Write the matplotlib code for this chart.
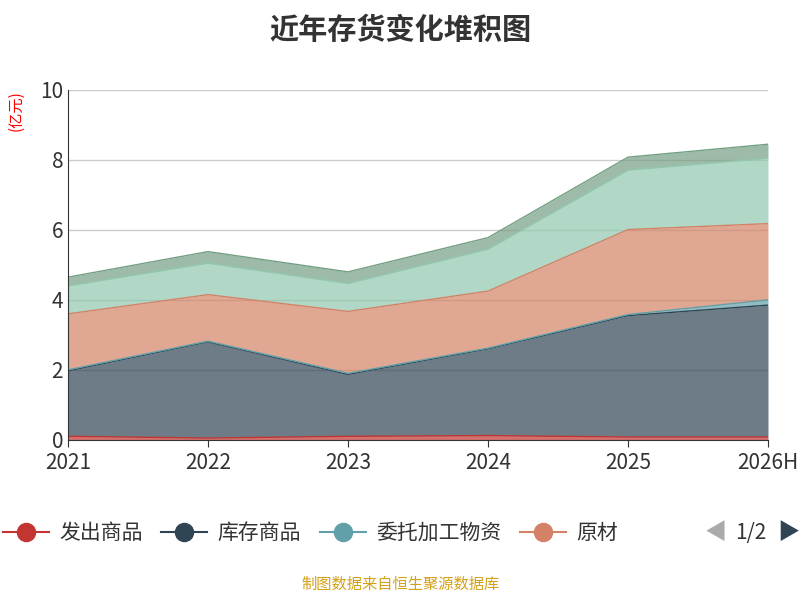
import numpy as np
import matplotlib.pyplot as plt
from matplotlib.lines import Line2D

plt.rcParams['font.family'] = ['Noto Sans CJK SC', 'DejaVu Sans']

years = ["2021", "2022", "2023", "2024", "2025", "2026H"]
names = ["发出商品", "库存商品", "委托加工物资", "原材料", "在产品", "其他"]
colors = ["#c23531", "#2f4554", "#61a0a8", "#d48265", "#91c7ae", "#749f83"]
fa_chu = [0.10, 0.05, 0.10, 0.12, 0.08, 0.08]
ku_cun = [1.87, 2.75, 1.77, 2.48, 3.47, 3.77]
wei_tuo = [0.03, 0.02, 0.03, 0.02, 0.03, 0.15]
yuan_cai = [1.60, 1.33, 1.77, 1.63, 2.43, 2.18]
zai_chan = [0.80, 0.90, 0.80, 1.20, 1.70, 1.87]
qi_ta = [0.25, 0.33, 0.33, 0.33, 0.37, 0.40]
series = [fa_chu, ku_cun, wei_tuo, yuan_cai, zai_chan, qi_ta]

fig = plt.figure(figsize=(8, 6), dpi=100)
ax = fig.add_axes([0.085, 0.267, 0.875, 0.583])
x = np.arange(len(years))
bottom = np.zeros(len(years))
for vals, c, n in zip(series, colors, names):
    top = bottom + np.array(vals)
    ax.fill_between(x, bottom, top, color=c, alpha=0.7, lw=0)
    ax.plot(x, top, color=c, lw=1)
    bottom = top

ax.set_xlim(0, len(years) - 1)
ax.set_ylim(0, 10)
ax.set_xticks(x)
ax.set_xticklabels(years, fontsize=15, color="#333")
ax.set_yticks([0, 2, 4, 6, 8, 10])
ax.tick_params(axis="y", labelsize=15, colors="#333", length=0)
ax.tick_params(axis="x", length=5, color="#333")
ax.grid(axis="y", color="#ccc", lw=1)
ax.set_axisbelow(True)
for s in ["top", "right"]:
    ax.spines[s].set_visible(False)
ax.spines["left"].set_color("#333")
ax.spines["bottom"].set_color("#333")
ax.text(-0.075, 1.0, "(亿元)", transform=ax.transAxes, rotation=90, color="red",
        fontsize=11, ha="center", va="top")

fig.suptitle("近年存货变化堆积图", fontsize=21, fontweight="bold", color="#333", y=0.975)

handles = [Line2D([], [], color=c, marker="o", markersize=13, lw=1.5) for c in colors[:4]]
fig.legend(handles, ["发出商品", "库存商品", "委托加工物资", "原材"], loc="center left",
           bbox_to_anchor=(-0.02, 0.112), ncol=4, frameon=False, fontsize=15,
           handlelength=2.2, columnspacing=0.9, handletextpad=0.5, labelcolor="#333")
fig.text(0.895, 0.112, "◀", color="#aaa", fontsize=16, ha="center", va="center")
fig.text(0.938, 0.112, "1/2", color="#333", fontsize=15, ha="center", va="center")
fig.text(0.985, 0.112, "▶", color="#2f4554", fontsize=16, ha="center", va="center")
fig.text(0.5, 0.018, "制图数据来自恒生聚源数据库", color="#d4a017", fontsize=11, ha="center")

fig.savefig("out.png")
